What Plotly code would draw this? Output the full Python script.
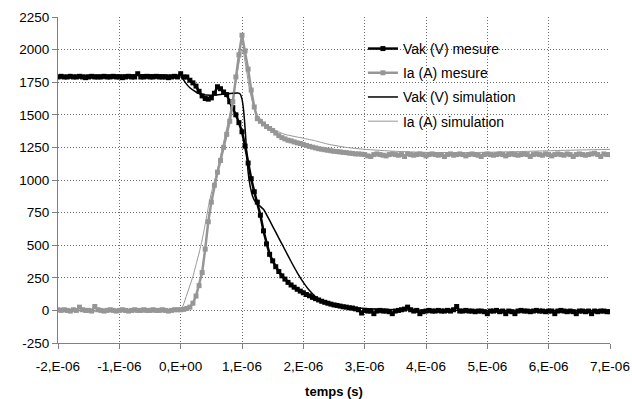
import plotly.graph_objects as go

# ---------------- data ----------------
T_START_US = -2.0   # first sample of the measured records (µs)
T_STEP_US = 0.05    # sampling step of the measured records (µs)

# Vak (V) mesure, one value every 0.05 µs from -2 µs to 7 µs
VAK_MESURE = [
    1790, 1795, 1790, 1790, 1795, 1790, 1790, 1795, 1790, 1785,
    1790, 1795, 1790, 1790, 1790, 1795, 1790, 1790, 1795, 1790,
    1790, 1785, 1790, 1795, 1790, 1790, 1815, 1790, 1790, 1795,
    1790, 1790, 1795, 1790, 1790, 1790, 1785, 1790, 1795, 1790,
    1815, 1790, 1790, 1765, 1745, 1720, 1680, 1645, 1625, 1620,
    1630, 1665, 1715, 1700, 1675, 1655, 1600, 1555, 1500, 1440,
    1370, 1260, 1130, 1010, 910, 830, 730, 610, 510, 430,
    380, 335, 298, 265, 240, 215, 195, 178, 162, 148,
    135, 122, 112, 100, 90, 80, 70, 62, 55, 48,
    42, 38, 33, 28, 25, 20, 18, 12, 5, -20,
    0, -5, -5, -25, -5, 0, -5, -5, -10, -25,
    -5, 0, 5, 10, 25, 5, -5, 0, -25, -10,
    -5, 0, -5, -5, 0, -5, -5, 0, -5, 5,
    30, -5, -5, 0, -5, -5, -10, -5, -5, -10,
    -25, -5, -5, 0, -10, -5, -25, -5, -10, -25,
    -5, 0, -5, -5, -10, -5, 0, -5, -5, -10,
    -5, -5, -25, -5, 0, -5, -10, -5, -10, -25,
    -5, -5, -10, -5, -25, -5, -10, -5, -5, -10,
    -10,
]

# Ia (A) mesure, same sampling
IA_MESURE = [
    5, 0, 5, 0, -5, 5, 0, 25, 5, 0,
    0, -5, 30, 5, 0, -5, 0, 5, 0, -5,
    0, 5, 0, -5, 0, 5, 0, 0, 5, 0,
    0, 5, 0, 0, 5, 0, -5, 0, 5, 5,
    5, 8, 15, 25, 55, 110, 190, 290, 470, 680,
    830, 960, 1060, 1150, 1250, 1350, 1450, 1600, 1790, 1960,
    2110, 1990, 1850, 1690, 1560, 1470, 1450, 1430, 1410, 1395,
    1380, 1360, 1340, 1325, 1315, 1305, 1300, 1292, 1285, 1280,
    1272, 1265, 1258, 1252, 1246, 1240, 1236, 1232, 1228, 1224,
    1220, 1218, 1215, 1212, 1210, 1206, 1204, 1200, 1200, 1198,
    1195, 1185, 1180, 1195, 1200, 1195, 1190, 1185, 1195, 1200,
    1195, 1190, 1195, 1180, 1200, 1195, 1190, 1195, 1200, 1195,
    1185, 1195, 1200, 1195, 1190, 1195, 1180, 1195, 1200, 1190,
    1195, 1200, 1195, 1185, 1195, 1200, 1195, 1190, 1180, 1195,
    1200, 1195, 1190, 1195, 1200, 1195, 1185, 1195, 1200, 1195,
    1190, 1195, 1200, 1195, 1180, 1195, 1200, 1195, 1190, 1200,
    1195, 1185, 1195, 1200, 1195, 1190, 1200, 1195, 1180, 1195,
    1200, 1195, 1190, 1195, 1200, 1205, 1195, 1180, 1200, 1195,
    1195,
]

# Vak (V) simulation
VAK_SIM_T_US = [-2, 0, 0.03, 0.08, 0.15, 0.25, 0.35, 0.5, 0.7, 0.85, 0.93, 0.97,
                1.0, 1.02, 1.04, 1.06, 1.08, 1.10, 1.13, 1.17, 1.22, 1.28, 1.35,
                1.4, 1.5, 1.6, 1.7, 1.8, 1.9, 2.0, 2.1, 2.2, 2.3, 2.4, 2.6, 2.8,
                3.0, 3.5, 4.0, 5.0, 7.0]
VAK_SIM = [1800, 1800, 1780, 1745, 1707, 1675, 1655, 1650, 1658, 1665, 1667, 1660,
           1620, 1560, 1460, 1330, 1180, 1060, 960, 880, 830, 805, 775,
           735, 645, 555, 465, 375, 290, 215, 152, 105, 75, 55, 35, 22,
           14, 5, 2, 0, 0]

# Ia (A) simulation
IA_SIM_T_US = [-2, 0, 0.05, 0.1, 0.15, 0.2, 0.25, 0.3, 0.35, 0.4, 0.45, 0.5, 0.6,
               0.7, 0.8, 0.88, 0.94, 0.98, 1.0, 1.03, 1.07, 1.12, 1.18, 1.25,
               1.35, 1.5, 1.7, 2.0, 2.2, 2.4, 2.7, 3.0, 3.5, 4.0, 4.7, 5.5, 6.3, 7.0]
IA_SIM = [0, 0, 50, 120, 190, 260, 350, 440, 540, 660, 790, 900, 1080,
          1290, 1500, 1700, 1870, 1970, 2000, 1960, 1850, 1700, 1580, 1500,
          1440, 1390, 1350, 1320, 1300, 1275, 1250, 1235, 1220, 1212, 1210, 1218, 1228, 1235]

X_TICKS_US = [-2, -1, 0, 1, 2, 3, 4, 5, 6, 7]
X_TICK_TEXT = ["-2,E-06", "-1,E-06", "0,E+00", "1,E-06", "2,E-06", "3,E-06",
               "4,E-06", "5,E-06", "6,E-06", "7,E-06"]
Y_TICKS = [-250, 0, 250, 500, 750, 1000, 1250, 1500, 1750, 2000, 2250]
Y_TICK_TEXT = [str(v) for v in Y_TICKS]

# ---------------- build ----------------
def us(v):
    return v * 1e-6

t_mes = [us(T_START_US + i * T_STEP_US) for i in range(len(VAK_MESURE))]
t_mes_ia = [us(T_START_US + i * T_STEP_US) for i in range(len(IA_MESURE))]

BLACK = "#000000"
GRAY = "#969696"
FONT = "Liberation Sans, Arial, sans-serif"

fig = go.Figure()
fig.add_trace(go.Scatter(
    x=t_mes, y=VAK_MESURE, mode="lines+markers", name="Vak (V) mesure",
    line=dict(color=BLACK, width=2.5), marker=dict(symbol="square", size=5, color=BLACK),
    legendgroup="a"))
fig.add_trace(go.Scatter(
    x=t_mes_ia, y=IA_MESURE, mode="lines+markers", name="Ia (A) mesure",
    line=dict(color=GRAY, width=2.5), marker=dict(symbol="square", size=5, color=GRAY),
    legendgroup="b"))
fig.add_trace(go.Scatter(
    x=[us(v) for v in VAK_SIM_T_US], y=VAK_SIM, mode="lines", name="Vak (V) simulation",
    line=dict(color=BLACK, width=1.5, shape="spline", smoothing=0.4), legendgroup="c"))
fig.add_trace(go.Scatter(
    x=[us(v) for v in IA_SIM_T_US], y=IA_SIM, mode="lines", name="Ia (A) simulation",
    line=dict(color=GRAY, width=1, shape="spline", smoothing=0.4), legendgroup="d"))

grid = dict(showgrid=True, gridcolor="#6e6e6e", griddash="1px,2px", gridwidth=1)

fig.update_layout(
    width=632, height=399,
    margin=dict(l=58, r=22, t=17, b=56, autoexpand=False),
    paper_bgcolor="white", plot_bgcolor="white",
    font=dict(family=FONT, size=14, color="#000000"),
    showlegend=True,
    legend=dict(x=0.5524, y=0.951, xanchor="left", yanchor="top",
                bgcolor="rgba(0,0,0,0)", borderwidth=0, tracegroupgap=3,
                font=dict(size=14)),
    xaxis=dict(range=[us(-2), us(7)], tickvals=[us(v) for v in X_TICKS_US],
               ticktext=X_TICK_TEXT, ticks="outside", ticklen=5, tickcolor="#808080",
               showline=True, linecolor="#808080", linewidth=1, zeroline=False,
               automargin=False, tickfont=dict(size=13.5), ticklabelstandoff=6,
               title=dict(text="<b>temps (s)</b>", font=dict(size=13), standoff=17),
               **grid),
    yaxis=dict(range=[-250, 2250], tickvals=Y_TICKS, ticktext=Y_TICK_TEXT,
               ticks="outside", ticklen=5, tickcolor="#808080",
               showline=True, linecolor="#808080", linewidth=1, zeroline=False,
               automargin=False, tickfont=dict(size=13.5),
               **grid),
    shapes=[dict(type="rect", xref="paper", yref="paper", x0=0.498, x1=0.9185,
                 y0=0.638, y1=0.9448, fillcolor="white", line=dict(width=0),
                 layer="between")],
)

# remove the page's default body margin so the 632x399 figure fills the window
fig.write_html("out.html",
               config={"displayModeBar": False},
               post_script="document.body.style.margin='0px';"
                           "document.body.style.overflow='hidden';")
